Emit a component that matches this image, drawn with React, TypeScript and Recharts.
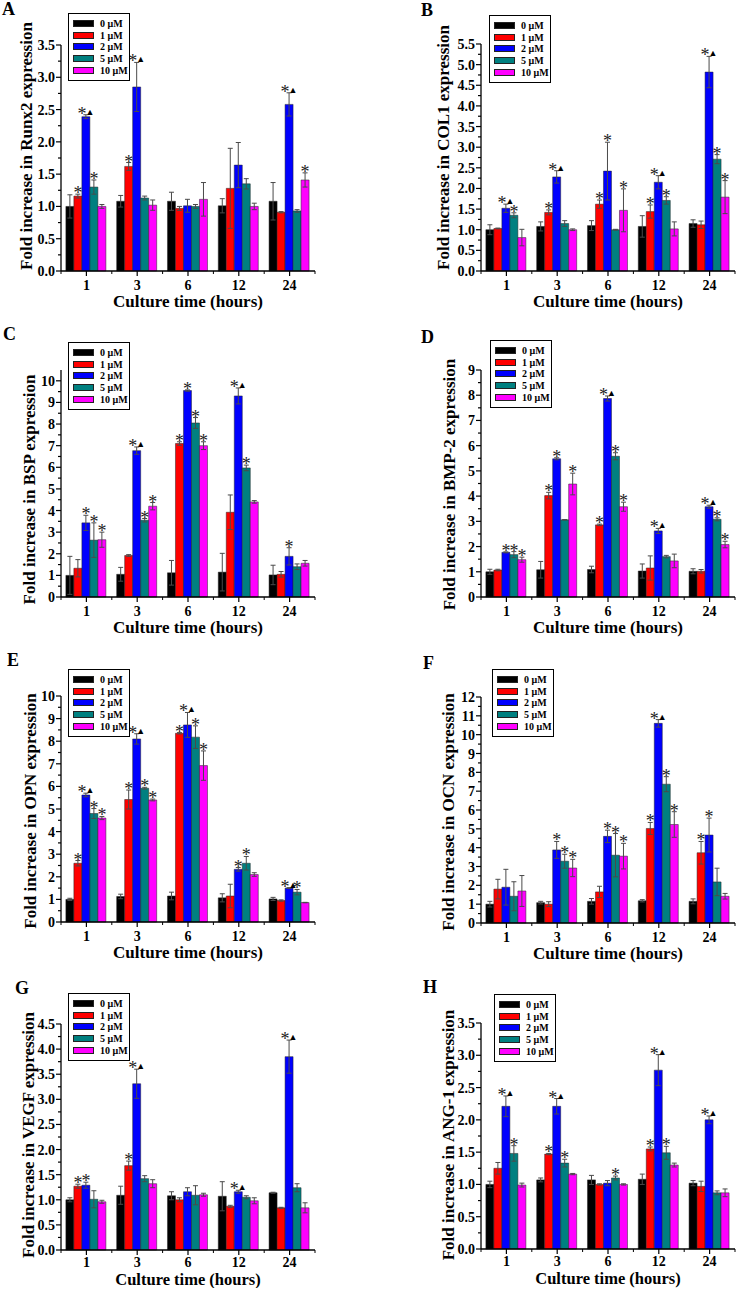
import React from "react";
import { BarChart, Bar, XAxis, YAxis, ErrorBar, LabelList } from "recharts";

const times = ["1", "3", "6", "12", "24"];
const doses = ["0 μM", "1 μM", "2 μM", "5 μM", "10 μM"];
const doseColors = ["#000000", "#ff0000", "#0000ff", "#008080", "#ff00ff"];
const FONT = "'Liberation Serif', 'Times New Roman', serif";

// rows = culture time, columns = dose
const runx2Mean = [
  [1.0, 1.16, 2.39, 1.3, 1.0],
  [1.08, 1.62, 2.85, 1.13, 1.02],
  [1.08, 0.97, 1.01, 1.0, 1.11],
  [1.01, 1.28, 1.64, 1.35, 1.0],
  [1.08, 0.91, 2.58, 0.93, 1.41],
];
const runx2Err = [
  [0.18, 0.03, 0.03, 0.11, 0.03],
  [0.09, 0.06, 0.38, 0.03, 0.08],
  [0.14, 0.03, 0.1, 0.03, 0.26],
  [0.11, 0.62, 0.35, 0.08, 0.05],
  [0.29, 0.01, 0.18, 0.02, 0.11],
];
const runx2Sig = [
  ["", "*", "*▲", "*", ""],
  ["", "*", "*▲", "", ""],
  ["", "", "", "", ""],
  ["", "", "", "", ""],
  ["", "", "*▲", "", "*"],
];

const col1Mean = [
  [1.0, 1.03, 1.52, 1.35, 0.81],
  [1.08, 1.42, 2.28, 1.15, 1.0],
  [1.1, 1.62, 2.42, 1.0, 1.47],
  [1.08, 1.44, 2.15, 1.71, 1.02],
  [1.15, 1.12, 4.82, 2.71, 1.79],
];
const col1Err = [
  [0.12, 0.01, 0.1, 0.06, 0.2],
  [0.11, 0.06, 0.15, 0.07, 0.02],
  [0.12, 0.1, 0.7, 0.01, 0.52],
  [0.26, 0.16, 0.16, 0.09, 0.17],
  [0.09, 0.09, 0.38, 0.11, 0.4],
];
const col1Sig = [
  ["", "", "*▲", "*", ""],
  ["", "*", "*▲", "", ""],
  ["", "*", "*", "", "*"],
  ["", "*", "*▲", "*", ""],
  ["", "", "*▲", "*", "*"],
];

const bspMean = [
  [1.0, 1.33, 3.43, 2.63, 2.65],
  [1.05, 1.92, 6.77, 3.55, 4.2],
  [1.12, 7.1, 9.55, 8.05, 7.0],
  [1.15, 3.92, 9.3, 5.97, 4.4],
  [1.02, 1.05, 1.88, 1.4, 1.56],
];
const bspErr = [
  [0.88, 0.4, 0.35, 0.8, 0.35],
  [0.32, 0.04, 0.17, 0.08, 0.17],
  [0.57, 0.08, 0.03, 0.25, 0.18],
  [0.87, 0.8, 0.37, 0.13, 0.06],
  [0.45, 0.13, 0.4, 0.13, 0.13],
];
const bspSig = [
  ["", "", "*", "*", "*"],
  ["", "", "*▲", "*", "*"],
  ["", "*", "*", "*", "*"],
  ["", "", "*▲", "*", ""],
  ["", "", "*", "", ""],
];

const bmp2Mean = [
  [1.0, 1.07, 1.77, 1.68, 1.48],
  [1.08, 4.02, 5.48, 3.06, 4.48],
  [1.09, 2.86, 7.87, 5.58, 3.58],
  [1.03, 1.15, 2.62, 1.6, 1.43],
  [1.02, 1.02, 3.58, 3.08, 2.08],
];
const bmp2Err = [
  [0.1, 0.03, 0.02, 0.12, 0.1],
  [0.33, 0.13, 0.04, 0.01, 0.43],
  [0.13, 0.03, 0.1, 0.14, 0.18],
  [0.28, 0.48, 0.1, 0.05, 0.27],
  [0.1, 0.07, 0.06, 0.06, 0.13],
];
const bmp2Sig = [
  ["", "", "*", "*", "*"],
  ["", "*", "*", "", "*"],
  ["", "*", "*▲", "*", "*"],
  ["", "", "*▲", "", ""],
  ["", "", "*▲", "*", "*"],
];

const opnMean = [
  [1.0, 2.6, 5.62, 4.8, 4.6],
  [1.13, 5.42, 8.1, 5.92, 5.4],
  [1.15, 8.35, 8.72, 8.18, 6.92],
  [1.07, 1.15, 2.33, 2.6, 2.1],
  [1.02, 0.95, 1.5, 1.32, 0.86],
];
const opnErr = [
  [0.05, 0.12, 0.08, 0.22, 0.07],
  [0.1, 0.42, 0.23, 0.04, 0.04],
  [0.17, 0.03, 0.55, 0.5, 0.65],
  [0.18, 0.52, 0.08, 0.3, 0.08],
  [0.07, 0.03, 0.02, 0.12, 0.01],
];
const opnSig = [
  ["", "*", "*▲", "*", "*"],
  ["", "*", "*▲", "*", "*"],
  ["", "*", "*▲", "*", "*"],
  ["", "", "*", "*", ""],
  ["", "", "*▲", "*", ""],
];

const ocnMean = [
  [1.0, 1.8, 1.9, 1.42, 1.7],
  [1.08, 1.0, 3.88, 3.28, 2.92],
  [1.15, 1.65, 4.6, 3.6, 3.55],
  [1.18, 5.02, 10.6, 7.37, 5.23],
  [1.15, 3.73, 4.67, 2.18, 1.42],
];
const ocnErr = [
  [0.15, 0.52, 0.95, 0.77, 0.82],
  [0.07, 0.13, 0.45, 0.37, 0.46],
  [0.15, 0.3, 0.33, 1.15, 0.68],
  [0.06, 0.32, 0.2, 0.4, 0.68],
  [0.13, 0.6, 0.9, 0.73, 0.15],
];
const ocnSig = [
  ["", "", "", "", ""],
  ["", "", "*", "*", "*"],
  ["", "", "*", "*", "*"],
  ["", "*", "*▲", "*", "*"],
  ["", "*", "*", "", ""],
];

const vegfMean = [
  [1.0, 1.27, 1.29, 1.01, 0.96],
  [1.09, 1.68, 3.31, 1.42, 1.32],
  [1.08, 1.0, 1.16, 1.09, 1.1],
  [1.07, 0.87, 1.16, 1.05, 0.98],
  [1.14, 0.84, 3.85, 1.24, 0.84],
];
const vegfErr = [
  [0.04, 0.04, 0.06, 0.17, 0.03],
  [0.18, 0.09, 0.29, 0.06, 0.08],
  [0.08, 0.04, 0.08, 0.19, 0.03],
  [0.29, 0.02, 0.03, 0.03, 0.06],
  [0.01, 0.01, 0.33, 0.08, 0.1],
];
const vegfSig = [
  ["", "*", "*", "", ""],
  ["", "*", "*▲", "", ""],
  ["", "", "", "", ""],
  ["", "", "*▲", "", ""],
  ["", "", "*▲", "", ""],
];

const ang1Mean = [
  [1.0, 1.25, 2.21, 1.48, 0.99],
  [1.07, 1.47, 2.21, 1.33, 1.16],
  [1.07, 1.0, 1.02, 1.1, 1.0],
  [1.08, 1.55, 2.77, 1.49, 1.3],
  [1.02, 0.97, 2.0, 0.87, 0.87],
];
const ang1Err = [
  [0.05, 0.09, 0.16, 0.12, 0.03],
  [0.03, 0.01, 0.12, 0.06, 0.01],
  [0.07, 0.01, 0.04, 0.03, 0.01],
  [0.08, 0.03, 0.24, 0.1, 0.03],
  [0.04, 0.08, 0.06, 0.03, 0.06],
];
const ang1Sig = [
  ["", "", "*▲", "*", ""],
  ["", "*", "*▲", "*", ""],
  ["", "", "", "*", ""],
  ["", "*", "*▲", "*", ""],
  ["", "", "*▲", "", ""],
];

const ticksHalf35 = [0, 0.5, 1, 1.5, 2, 2.5, 3, 3.5];
const ticksHalf45 = [0, 0.5, 1, 1.5, 2, 2.5, 3, 3.5, 4, 4.5];
const ticksHalf55 = [0, 0.5, 1, 1.5, 2, 2.5, 3, 3.5, 4, 4.5, 5, 5.5];
const ticksInt9 = [0, 1, 2, 3, 4, 5, 6, 7, 8, 9];
const ticksInt10 = [0, 1, 2, 3, 4, 5, 6, 7, 8, 9, 10];
const ticksInt12 = [0, 1, 2, 3, 4, 5, 6, 7, 8, 9, 10, 11, 12];

const panels = [
  { letter: "A", gene: "Runx2", mean: runx2Mean, err: runx2Err, sig: runx2Sig, ticks: ticksHalf35, max: 3.5, dec: 1, col: 0, row: 0, top: 45, bottom: 271, titleX: 26, titleDy: -12, letterAt: [2, 15], legendAt: [68, 13] },
  { letter: "B", gene: "COL1", mean: col1Mean, err: col1Err, sig: col1Sig, ticks: ticksHalf55, max: 5.5, dec: 1, col: 1, row: 0, top: 44, bottom: 271, titleX: 75, titleDy: -10, letterAt: [421, 16], legendAt: [489, 15] },
  { letter: "C", gene: "BSP", mean: bspMean, err: bspErr, sig: bspSig, ticks: ticksInt10, max: 10.5, dec: 0, col: 0, row: 1, top: 48, bottom: 275, titleX: 29, titleDy: 6, letterAt: [3, 340], legendAt: [68, 342] },
  { letter: "D", gene: "BMP-2", mean: bmp2Mean, err: bmp2Err, sig: bmp2Sig, ticks: ticksInt9, max: 9, dec: 0, col: 1, row: 1, top: 48, bottom: 275, titleX: 81, titleDy: 1, letterAt: [421, 343], legendAt: [490, 340] },
  { letter: "E", gene: "OPN", mean: opnMean, err: opnErr, sig: opnSig, ticks: ticksInt10, max: 10, dec: 0, col: 0, row: 2, top: 52, bottom: 278, titleX: 30, titleDy: 2, letterAt: [7, 666], legendAt: [68, 669] },
  { letter: "F", gene: "OCN", mean: ocnMean, err: ocnErr, sig: ocnSig, ticks: ticksInt12, max: 12, dec: 0, col: 1, row: 2, top: 53, bottom: 279, titleX: 80, titleDy: 2, letterAt: [423, 669], legendAt: [492, 669] },
  { letter: "G", gene: "VEGF", mean: vegfMean, err: vegfErr, sig: vegfSig, ticks: ticksHalf45, max: 4.5, dec: 1, col: 0, row: 3, top: 58, bottom: 284, titleX: 28, titleDy: -2, letterAt: [15, 994], legendAt: [68, 993] },
  { letter: "H", gene: "ANG-1", mean: ang1Mean, err: ang1Err, sig: ang1Sig, ticks: ticksHalf35, max: 3.5, dec: 1, col: 1, row: 3, top: 57, bottom: 283, titleX: 80, titleDy: -1, letterAt: [423, 993], legendAt: [494, 994] },
];

const CELL_W = 368;
const CELL_H = 322;
const PLOT_W = 254;

function buildRows(mean: number[][], err: number[][], sig: string[][]) {
  return times.map((t, i) => {
    const row: any = { time: t };
    doses.forEach((_, j) => {
      row["v" + j] = mean[i][j];
      row["e" + j] = err[i][j];
      row["s" + j] = sig[i][j];
    });
    return row;
  });
}

function SigMark(props: any) {
  const { value, rows, j, index } = props;
  if (!value) return null;
  const vb = props.viewBox || props;
  const x = Number(vb.x);
  const y = Number(vb.y);
  const w = Number(vb.width);
  const h = Number(vb.height);
  const row = rows[index];
  const perUnit = h / row["v" + j];
  const errTop = y - row["e" + j] * perUnit;
  return (
    <text
      x={x + w / 2}
      y={errTop + 5}
      textAnchor="middle"
      fontFamily={FONT}
      fontSize={18}
      style={{ fill: "#222", stroke: "none" }}
    >
      <tspan style={{ fill: "#222" }}>*</tspan>
      {value.length > 1 && (
        <tspan fontSize={9} dx={-1} dy={-5} style={{ fill: "#000" }}>
          ▲
        </tspan>
      )}
    </text>
  );
}

function Panel({ p }: { p: any }) {
  const rows = buildRows(p.mean, p.err, p.sig);
  const plotLeft = p.col === 0 ? 61 : 113;
  const band = PLOT_W / times.length;
  const majors: number[] = p.ticks;
  const minors = majors.slice(1).map((t, i) => (t + majors[i]) / 2);
  const allTicks = [...majors, ...minors].sort((a, b) => a - b);
  const xAxisH = CELL_H - p.bottom;
  const lastRow = p.row === 3;
  const xTickOffset = lastRow ? 17 : 19;
  const xTitleOffset = lastRow ? 35 : 36;
  const xTitleSize = lastRow ? 16.5 : 17;

  const yTick = (tp: any) => {
    const v = tp.payload.value;
    const major = majors.includes(v);
    return (
      <g>
        <line x1={tp.x} x2={tp.x - (major ? 5 : 3)} y1={tp.y} y2={tp.y} stroke="#000" strokeWidth={1.2} />
        {major && (
          <text x={tp.x - 6} y={tp.y + 5} textAnchor="end" fontFamily={FONT} fontWeight="bold" fontSize={14} fill="#000">
            {v.toFixed(p.dec)}
          </text>
        )}
      </g>
    );
  };

  const xTick = (tp: any) => (
    <g>
      <line x1={tp.x} x2={tp.x} y1={tp.y} y2={tp.y + 5} stroke="#000" strokeWidth={1.2} />
      <line x1={tp.x - band / 2} x2={tp.x - band / 2} y1={tp.y} y2={tp.y + 3} stroke="#000" strokeWidth={1} />
      {tp.index === times.length - 1 && (
        <line x1={tp.x + band / 2} x2={tp.x + band / 2} y1={tp.y} y2={tp.y + 3} stroke="#000" strokeWidth={1} />
      )}
      <text x={tp.x} y={tp.y + xTickOffset} textAnchor="middle" fontFamily={FONT} fontWeight="bold" fontSize={14} fill="#000">
        {tp.payload.value}
      </text>
    </g>
  );

  const yTitle = (lp: any) => {
    const vb = lp.viewBox;
    const cx = vb.x + p.titleX;
    const cy = p.top + (p.bottom - p.top) / 2 + p.titleDy;
    return (
      <text
        x={cx}
        y={cy}
        transform={`rotate(-90 ${cx} ${cy})`}
        textAnchor="middle"
        dominantBaseline="central"
        fontFamily={FONT}
        fontWeight="bold"
        fontSize={17}
        fill="#000"
      >
        {`Fold increase in ${p.gene} expression`}
      </text>
    );
  };

  const xTitle = (lp: any) => {
    const vb = lp.viewBox;
    return (
      <text x={vb.x + vb.width / 2} y={vb.y + xTitleOffset} textAnchor="middle" fontFamily={FONT} fontWeight="bold" fontSize={xTitleSize} fill="#000">
        Culture time (hours)
      </text>
    );
  };

  return (
    <div style={{ position: "absolute", left: p.col * CELL_W, top: p.row * CELL_H }}>
      <BarChart
        width={CELL_W}
        height={CELL_H}
        data={rows}
        margin={{ top: p.top, right: CELL_W - plotLeft - PLOT_W, bottom: 0, left: 0 }}
        barGap={0}
        barCategoryGap="9.6%"
      >
        <XAxis
          dataKey="time"
          height={xAxisH}
          tickSize={0}
          tickMargin={0}
          interval={0}
          tick={xTick}
          axisLine={{ stroke: "#000", strokeWidth: 1.3 }}
          label={{ content: xTitle }}
        />
        <YAxis
          width={plotLeft}
          domain={[0, p.max]}
          ticks={allTicks}
          interval={0}
          tickSize={0}
          tickMargin={0}
          tick={yTick}
          axisLine={{ stroke: "#000", strokeWidth: 1.3 }}
          label={{ content: yTitle }}
        />
        {doses.map((d, j) => (
          <Bar key={d} dataKey={"v" + j} fill={doseColors[j]} stroke="#222" strokeWidth={0.5} isAnimationActive={false}>
            <ErrorBar dataKey={"e" + j} width={2.5} stroke="#4a4a4a" strokeWidth={1} direction="y" />
            <LabelList dataKey={"s" + j} content={(lp: any) => <SigMark {...lp} rows={rows} j={j} />} />
          </Bar>
        ))}
      </BarChart>
    </div>
  );
}

function LegendBox({ p }: { p: any }) {
  return (
    <div
      style={{
        position: "absolute",
        left: p.legendAt[0],
        top: p.legendAt[1],
        width: 60,
        height: 66,
        border: "1px solid #000",
        background: "#fff",
        fontFamily: FONT,
        fontWeight: "bold",
        fontSize: 10,
      }}
    >
      {doses.map((d, j) => (
        <div key={d} style={{ position: "absolute", left: 4, top: 5 + j * 11.7, height: 9, display: "flex", alignItems: "center" }}>
          <div style={{ width: 21, height: 7, background: doseColors[j], border: "0.5px solid #222", boxSizing: "border-box" }} />
          <span style={{ marginLeft: 6, lineHeight: "9px", whiteSpace: "nowrap" }}>{d}</span>
        </div>
      ))}
    </div>
  );
}

export default function App() {
  return (
    <div style={{ position: "absolute", left: 0, top: 0, width: 736, height: 1289, background: "#fff", overflow: "hidden" }}>
      {panels.map((p) => (
        <Panel key={p.letter} p={p} />
      ))}
      {panels.map((p) => (
        <LegendBox key={"lg" + p.letter} p={p} />
      ))}
      <svg width={736} height={1289} style={{ position: "absolute", left: 0, top: 0, pointerEvents: "none" }}>
        {panels.map((p) => (
          <text key={"lt" + p.letter} x={p.letterAt[0]} y={p.letterAt[1]} fontFamily={FONT} fontWeight="bold" fontSize={18} fill="#000">
            {p.letter}
          </text>
        ))}
      </svg>
    </div>
  );
}
